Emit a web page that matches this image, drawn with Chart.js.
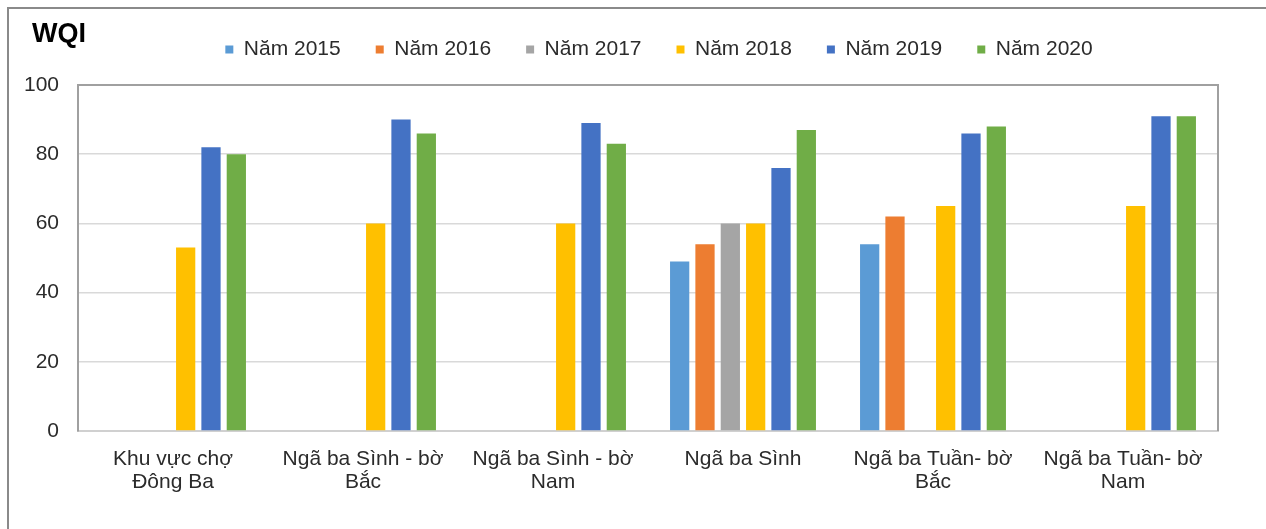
<!DOCTYPE html>
<html>
<head>
<meta charset="utf-8">
<title>WQI</title>
<script src="https://cdn.jsdelivr.net/npm/chart.js@4.4.0/dist/chart.umd.min.js"></script>
<style>
    body { margin: 0; background: #fff; }
    #wrap { position: relative; width: 1266px; height: 529px; overflow: hidden; }
    #frame {
        position: absolute; left: 7px; top: 7px; right: -20px; bottom: -20px;
        border-left: 2px solid #8a8a8a; border-top: 2px solid #8a8a8a;
        pointer-events: none;
    }
</style>
</head>
<body>
<div id="wrap">
    <canvas id="myChart" width="1266" height="529"></canvas>
    <div id="frame"></div>
</div>
<script>
// monitoring sites along the river
const categories = [
    ['Khu vực chợ', 'Đông Ba'],
    ['Ngã ba Sình - bờ', 'Bắc'],
    ['Ngã ba Sình - bờ', 'Nam'],
    'Ngã ba Sình',
    ['Ngã ba Tuần- bờ', 'Bắc'],
    ['Ngã ba Tuần- bờ', 'Nam']
];

const yearLabels = ['Năm 2015', 'Năm 2016', 'Năm 2017', 'Năm 2018', 'Năm 2019', 'Năm 2020'];

// WQI per site, null = no measurement that year
const wqi2015 = [null, null, null, 49, 54, null];
const wqi2016 = [null, null, null, 54, 62, null];
const wqi2017 = [null, null, null, 60, null, null];
const wqi2018 = [53, 60, 60, 60, 65, 65];
const wqi2019 = [82, 90, 89, 76, 86, 91];
const wqi2020 = [80, 86, 83, 87, 88, 91];

const yTicks = [0, 20, 40, 60, 80, 100];

const fixedColors = [
    '#5b9bd5',  // 2015
    '#ed7d31',  // 2016
    '#a5a5a5',  // 2017
    '#ffc000',  // 2018
    '#4472c4',  // 2019
    '#70ad47'   // 2020
];

const seriesValues = [wqi2015, wqi2016, wqi2017, wqi2018, wqi2019, wqi2020];

const datasets = seriesValues.map((values, index) => ({
    label: yearLabels[index],
    data: values,
    backgroundColor: fixedColors[index],
    borderWidth: 0,
    categoryPercentage: 0.8,
    barPercentage: 0.76
}));

const FONT = '"Liberation Sans", Arial, sans-serif';

// legend height sets the plot top; shift moves the legend row to the right
const LEGEND_HEIGHT = 85;
const LEGEND_SHIFT = 50;

const chartTweaks = {
    id: 'chartTweaks',
    beforeInit(chart) {
        const legend = chart.legend;
        const fit = legend.fit;
        legend.fit = function () {
            fit.call(this);
            this.height = LEGEND_HEIGHT;
        };
    },
    afterLayout(chart) {
        chart.legend.left += LEGEND_SHIFT;
        chart.legend.right += LEGEND_SHIFT;
        chart.legend.top += 4;
    },
    beforeDatasetsDraw(chart) {
        // plot frame: top and right edges
        const { ctx, chartArea: a } = chart;
        ctx.save();
        ctx.strokeStyle = '#a0a0a0';
        ctx.lineWidth = 2;
        ctx.beginPath();
        ctx.moveTo(a.left, a.top);
        ctx.lineTo(a.right, a.top);
        ctx.lineTo(a.right, a.bottom);
        ctx.stroke();
        ctx.restore();
    },
    afterDraw(chart) {
        const { ctx } = chart;
        ctx.save();
        ctx.fillStyle = '#000';
        ctx.font = 'bold 27px ' + FONT;
        ctx.textBaseline = 'middle';
        ctx.textAlign = 'left';
        ctx.fillText('WQI', 32, 35);
        ctx.restore();
    }
};

const ctx = document.getElementById('myChart').getContext('2d');
new Chart(ctx, {
    type: 'bar',
    data: {
        labels: categories,
        datasets: datasets
    },
    plugins: [chartTweaks],
    options: {
        responsive: false,
        animation: false,
        layout: { padding: { left: 0, right: 48, top: 0, bottom: 0 } },
        plugins: {
            legend: {
                position: 'top',
                align: 'center',
                labels: {
                    boxWidth: 8,
                    boxHeight: 8,
                    padding: 35,
                    color: '#2b2b2b',
                    font: { family: FONT, size: 21 }
                }
            },
            tooltip: { enabled: false }
        },
        scales: {
            x: {
                grid: { display: false, drawTicks: false },
                border: { display: true, color: '#d0d0d0', width: 2 },
                ticks: {
                    color: '#2b2b2b',
                    padding: 17,
                    maxRotation: 0,
                    autoSkip: false,
                    font: { family: FONT, size: 21, lineHeight: 1.1 }
                },
                afterFit(scale) { scale.height = 98; }
            },
            y: {
                min: 0,
                max: 100,
                afterBuildTicks(scale) {
                    scale.ticks = yTicks.map(v => ({ value: v }));
                },
                grid: { color: '#d9d9d9', lineWidth: 1.5, drawTicks: false },
                border: { display: true, color: '#a0a0a0', width: 2 },
                ticks: {
                    color: '#2b2b2b',
                    padding: 19,
                    font: { family: FONT, size: 21 }
                },
                afterFit(scale) { scale.width = 78; }
            }
        }
    }
});
</script>
</body>
</html>
